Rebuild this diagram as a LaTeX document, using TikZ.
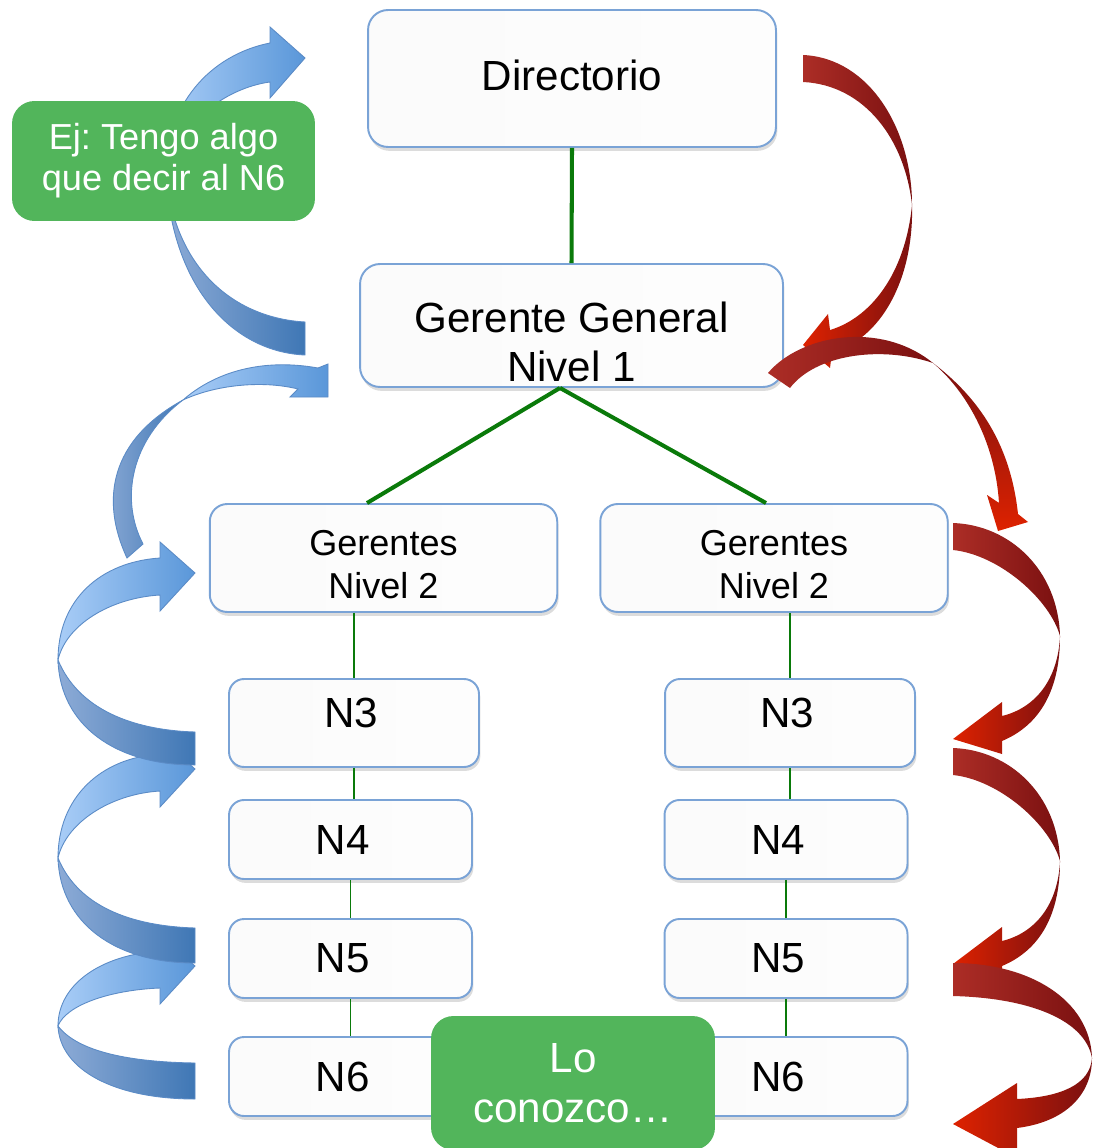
\documentclass[tikz,border=0pt]{standalone}
\usepackage{fontspec}
\setmainfont{Liberation Sans}
\usetikzlibrary{shadows}
\definecolor{boxline}{HTML}{7AA3D6}
\definecolor{trunkgreen}{HTML}{0A7A0A}
\definecolor{notegreen}{HTML}{52B55B}
\definecolor{bluelight}{HTML}{A9CDF7}
\definecolor{bluemid}{HTML}{5A97D9}
\definecolor{bluedull}{HTML}{8DABD6}
\definecolor{bluedeep}{HTML}{3F77B5}
\definecolor{blueedge}{HTML}{5B8BC6}
\definecolor{redtail}{HTML}{AC2D26}
\definecolor{reddark}{HTML}{7A1010}
\definecolor{redbright}{HTML}{DE2200}
\pgfdeclarehorizontalshading{boxfill}{100bp}{color(0bp)=(black!14); color(5bp)=(black!5); color(15bp)=(black!2); color(100bp)=(white)}
\frenchspacing

\begin{document}
\begin{tikzpicture}[x=0.02cm,y=-0.02cm,
  box/.style={draw=boxline,line width=1.1pt,rounded corners=0.35cm,shade,shading=boxfill,inner sep=0pt,align=center,
    drop shadow={shadow xshift=0.8pt,shadow yshift=-2.2pt,opacity=0.28}},
  headbox/.style={box,font=\fontsize{24}{28}\selectfont,rounded corners=0.4cm},
  mgrbox/.style={box,font=\fontsize{20.5}{24.4}\selectfont,minimum width=6.95cm,minimum height=2.16cm},
  lvlbox/.style={box,font=\fontsize{24}{28}\selectfont,minimum width=4.86cm,minimum height=1.58cm,rounded corners=0.3cm},
  notebox/.style={fill=notegreen,text=white,rounded corners=0.45cm,align=center,inner sep=0pt},
  trunk/.style={draw=trunkgreen,line width=2.3pt},
  twig/.style={draw=trunkgreen,line width=0.9pt},
  blueup/.style={draw=blueedge,line width=0.5pt,left color=bluelight,right color=bluemid},
  bluedown/.style={draw=blueedge,line width=0.5pt,left color=bluedull,right color=bluedeep},
  redtailp/.style={left color=redtail,right color=reddark},
  redhead/.style={left color=redbright,right color=reddark},
  redfall/.style={top color=reddark,bottom color=redbright}]
  \useasboundingbox (0,0) rectangle (1101,1148);
  \clip (0,0) rectangle (1101,1148);

  % boxes
  \node[headbox,minimum width=8.16cm,minimum height=2.74cm] (dir) at (572,78.5) {\rule[-3.4pt]{0pt}{3.4pt}Directorio};
  \node[headbox,minimum width=8.46cm,minimum height=2.46cm] (gg) at (571.5,325.5) {\rule{0pt}{36.3pt}Gerente General\\Nivel 1};
  \node[mgrbox] (gl) at (383.5,558) {\rule{0pt}{21.8pt}Gerentes\hspace{6pt}\\Nivel 2\hspace{6pt}};
  \node[mgrbox] (gr) at (774,558) {\rule{0pt}{21.8pt}Gerentes\\Nivel 2};
  \node[lvlbox,minimum width=5cm,minimum height=1.76cm] (n3l) at (354,723) {\rule[-11.5pt]{0pt}{11.5pt}N3\hspace{3pt}};
  \node[lvlbox] (n4l) at (350.5,839.5) {N4\hspace{9pt}};
  \node[lvlbox] (n5l) at (350.5,958.5) {N5\hspace{9pt}};
  \node[lvlbox] (n6l) at (350.5,1076.5) {N6\hspace{9pt}};
  \node[lvlbox,minimum width=5cm,minimum height=1.76cm] (n3r) at (790,723) {\rule[-11.5pt]{0pt}{11.5pt}N3\hspace{3pt}};
  \node[lvlbox] (n4r) at (786,839.5) {N4\hspace{9pt}};
  \node[lvlbox] (n5r) at (786,958.5) {N5\hspace{9pt}};
  \node[lvlbox] (n6r) at (786,1076.5) {N6\hspace{9pt}};

  % green links
  \draw[trunk] (dir.south) -- (gg.north);
  \draw[trunk] ([xshift=-0.23cm]gg.south) -- ([xshift=-0.33cm]gl.north);
  \draw[trunk] ([xshift=-0.23cm]gg.south) -- ([xshift=-0.16cm]gr.north);
  \draw[twig] (gl.south -| n3l.north) -- (n3l.north);
  \draw[twig] (n3l.south) -- (n3l.south |- n4l.north);
  \draw[twig] (n4l.south) -- (n5l.north);
  \draw[twig] (n5l.south) -- (n6l.north);
  \draw[twig] (gr.south -| n3r.north) -- (n3r.north);
  \draw[twig] (n3r.south) -- (n3r.south |- n4r.north);
  \draw[twig] (n4r.south) -- (n5r.north);
  \draw[twig] (n5r.south) -- (n6r.north);

  % blue arrows, upwards
  \path[bluedown] (58,1026) .. controls (78,1052) and (130,1062) .. (195,1063) -- (195,1099) .. controls (115,1099) and (60,1070) .. (58,1026) -- cycle;
  \path[blueup] (58,1026) .. controls (58,985) and (100,955) .. (160,951) -- (160,935) -- (195,966) -- (160,1004) -- (160,988) .. controls (110,990) and (66,1005) .. (58,1026) -- cycle;
  \path[bluedown] (58,858) .. controls (78,906) and (130,926) .. (195,928) -- (195,963) .. controls (115,963) and (60,923) .. (58,858) -- cycle;
  \path[blueup] (58,858) .. controls (58,798) and (100,758) .. (160,754) -- (160,738) -- (195,769) -- (160,807) -- (160,791) .. controls (110,794) and (66,823) .. (58,858) -- cycle;
  \path[bluedown] (58,660) .. controls (78,708) and (130,730) .. (195,732) -- (195,765) .. controls (115,765) and (60,725) .. (58,660) -- cycle;
  \path[blueup] (58,660) .. controls (58,600) and (100,562) .. (160,558) -- (160,542) -- (195,573) -- (160,611) -- (160,595) .. controls (110,598) and (66,625) .. (58,660) -- cycle;
  \path[bluedown] (127,558) .. controls (100,500) and (110,440) .. (183,400) .. controls (130,440) and (120,500) .. (143,544) -- cycle;
  \path[blueup] (183,400) .. controls (215,372) and (262,358) .. (318,368) -- (328,364) -- (328,397) -- (290,397) -- (298,389) .. controls (262,380) and (215,385) .. (183,400) -- cycle;
  \path[bluedown] (166,175) .. controls (175,270) and (235,318) .. (305,322) -- (305,355) .. controls (235,352) and (172,290) .. (166,175) -- cycle;
  \path[blueup] (166,175) .. controls (165,105) and (210,55) .. (270,43) -- (270,27) -- (305,58) -- (270,98) -- (270,82) .. controls (225,88) and (176,125) .. (166,175) -- cycle;

  % red arrows, downwards
  \path[redtailp] (803,55) .. controls (870,58) and (912,130) .. (912,205) .. controls (905,140) and (865,85) .. (803,82) -- cycle;
  \path[redhead] (912,205) .. controls (905,275) and (870,318) .. (830,330) -- (828,314) -- (803,345) -- (830,368) -- (832,352) .. controls (880,340) and (914,280) .. (912,205) -- cycle;
  \path[redtailp] (768,373) .. controls (800,335) and (880,320) .. (933,363) .. controls (880,345) and (815,355) .. (790,388) -- cycle;
  \path[redfall] (933,363) .. controls (975,395) and (1010,440) .. (1018,514) -- (1028,522) -- (998,531) -- (987,495) -- (999,503) .. controls (995,440) and (965,390) .. (933,363) -- cycle;
  \path[redtailp] (953,523) .. controls (1010,525) and (1058,570) .. (1060,636) .. controls (1050,600) and (1000,555) .. (953,550) -- cycle;
  \path[redhead] (1060,636) .. controls (1058,680) and (1035,708) .. (1002,716) -- (1002,702) -- (953,739) -- (1002,754) -- (1002,741) .. controls (1040,725) and (1060,690) .. (1060,636) -- cycle;
  \path[redtailp] (953,748) .. controls (1010,750) and (1058,795) .. (1060,861) .. controls (1050,825) and (1000,780) .. (953,775) -- cycle;
  \path[redhead] (1060,861) .. controls (1058,905) and (1035,933) .. (1002,941) -- (1002,927) -- (953,964) -- (1002,979) -- (1002,966) .. controls (1040,950) and (1060,915) .. (1060,861) -- cycle;
  \path[redtailp] (953,963) .. controls (1030,963) and (1090,1000) .. (1092,1058) .. controls (1085,1020) and (1030,998) .. (953,996) -- cycle;
  \path[redhead] (1092,1058) .. controls (1090,1085) and (1060,1097) .. (1017,1099) -- (1017,1083) -- (953,1124) -- (1017,1158) -- (1017,1128) .. controls (1065,1122) and (1092,1095) .. (1092,1058) -- cycle;

  % notes
  \node[notebox,minimum width=6.06cm,minimum height=2.4cm,font=\fontsize{20.6}{23.2}\selectfont] (ej) at (163.5,161) {Ej: Tengo algo\\que decir al N6};
  \node[notebox,minimum width=5.68cm,minimum height=2.68cm,font=\fontsize{24}{28.3}\selectfont] (lo) at (573,1083) {Lo\\conozco…};
\end{tikzpicture}
\end{document}
